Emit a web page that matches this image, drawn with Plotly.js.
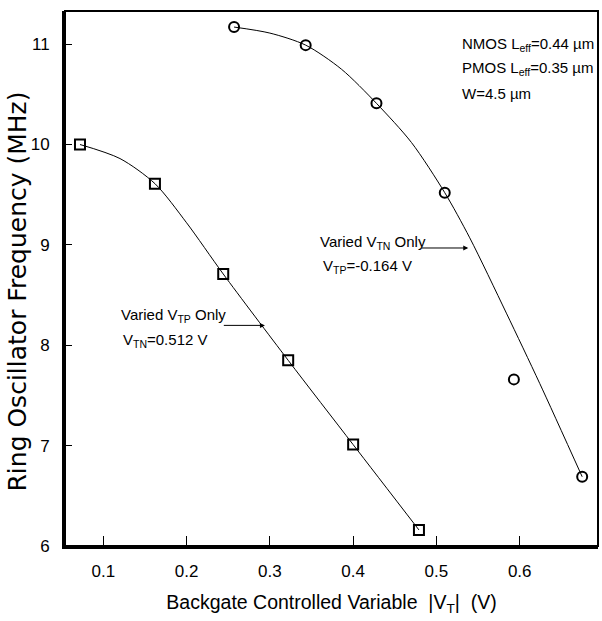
<!DOCTYPE html>
<html>
<head>
<meta charset="utf-8">
<script src="https://cdn.plot.ly/plotly-3.0.1.min.js"></script>
<style>
html,body{margin:0;padding:0;background:#fff;}
#chart{width:602px;height:621px;}
</style>
</head>
<body>
<div id="chart"></div>
<script>
// Varied V_TP only (squares)
const sqX = [0.072, 0.162, 0.244, 0.322, 0.400, 0.479];
const sqY = [10.00, 9.61, 8.71, 7.85, 7.01, 6.16];
// fitted curve through the squares
const sqFitX = [0.072, 0.120, 0.162, 0.200, 0.244, 0.322, 0.400, 0.479];
const sqFitY = [10.00, 9.86, 9.61, 9.22, 8.71, 7.85, 7.01, 6.16];
// Varied V_TN only (circles)
const ciX = [0.257, 0.343, 0.428, 0.510, 0.593, 0.675];
const ciY = [11.17, 10.99, 10.41, 9.52, 7.66, 6.69];
// fitted curve for the circles
const ciFitX = [0.257, 0.300, 0.343, 0.386, 0.428, 0.470, 0.510, 0.540, 0.584, 0.624, 0.675];
const ciFitY = [11.17, 11.11, 10.99, 10.75, 10.41, 10.02, 9.52, 9.07, 8.32, 7.62, 6.69];

const xTicks = [0.1, 0.2, 0.3, 0.4, 0.5, 0.6];
const xTickText = ['0.1', '0.2', '0.3', '0.4', '0.5', '0.6'];
const yTicks = [6, 7, 8, 9, 10, 11];
const yTickText = ['6', '7', '8', '9', '10', '11'];

const SANS = 'Liberation Sans, Arial, sans-serif';

const traces = [
  {x: sqFitX, y: sqFitY, mode: 'lines', line: {color: '#000', width: 1, shape: 'spline', smoothing: 0.8}, hoverinfo: 'skip'},
  {x: ciFitX, y: ciFitY, mode: 'lines', line: {color: '#000', width: 1, shape: 'spline', smoothing: 0.8}, hoverinfo: 'skip'},
  {x: sqX, y: sqY, mode: 'markers', marker: {symbol: 'square-open', size: 10, color: '#000', line: {color: '#000', width: 2}}},
  {x: ciX, y: ciY, mode: 'markers', marker: {symbol: 'circle-open', size: 10, color: '#000', line: {color: '#000', width: 2}}}
];

function txt(x, y, text) {
  return {x: x, y: y, xref: 'x', yref: 'y', text: text, showarrow: false,
    xanchor: 'left', yanchor: 'middle', align: 'left',
    font: {family: SANS, size: 15, color: '#000'}};
}
function arrow(x, y, ax, ay) {
  return {x: x, y: y, ax: ax, ay: ay, xref: 'x', yref: 'y', axref: 'x', ayref: 'y',
    text: '', showarrow: true, arrowhead: 2, arrowsize: 1, arrowwidth: 1, arrowcolor: '#000'};
}

const layout = {
  width: 602, height: 621,
  margin: {l: 65, r: 4, t: 11, b: 75, pad: 0},
  paper_bgcolor: '#fff', plot_bgcolor: '#fff',
  showlegend: false,
  xaxis: {
    range: [0.054, 0.694], showgrid: false, zeroline: false,
    showline: true, linecolor: '#000', linewidth: 3,
    ticks: 'inside', ticklen: 10, tickwidth: 1.2, tickcolor: '#000',
    tickvals: xTicks, ticktext: xTickText,
    tickfont: {family: SANS, size: 17, color: '#000'},
    ticklabelstandoff: 8,
    title: {text: 'Backgate Controlled Variable  |V<sub>T</sub>|  (V)', font: {family: SANS, size: 19.5, color: '#000'}, standoff: 15}
  },
  yaxis: {
    range: [6, 11.33], showgrid: false, zeroline: false,
    showline: true, linecolor: '#000', linewidth: 3,
    ticks: 'inside', ticklen: 7, tickwidth: 1.2, tickcolor: '#000',
    tickvals: yTicks, ticktext: yTickText,
    tickfont: {family: SANS, size: 17, color: '#000'},
    ticklabelstandoff: 9
  },
  shapes: [
    {type: 'rect', xref: 'paper', yref: 'paper', x0: 0, x1: 1, y0: 0, y1: 1, line: {color: '#000', width: 2}}
  ],
  annotations: [
    {x: -0.09, y: 0.4757, xref: 'paper', yref: 'paper', text: 'Ring Oscillator Frequency (MHz)',
     textangle: -90, showarrow: false, xanchor: 'center', yanchor: 'middle',
     font: {family: 'DejaVu Sans, sans-serif', size: 25, color: '#000'}},
    txt(0.1188, 8.298, 'Varied V<sub>TP</sub> Only'),
    txt(0.1209, 8.049, 'V<sub>TN</sub>=0.512 V'),
    arrow(0.2941, 8.198, 0.2429, 8.198),
    txt(0.3581, 9.019, 'Varied V<sub>TN</sub> Only'),
    txt(0.3610, 8.787, 'V<sub>TP</sub>=-0.164 V'),
    arrow(0.5382, 8.969, 0.4802, 8.969),
    txt(0.528, 10.997, 'NMOS L<sub>eff</sub>=0.44 µm'),
    txt(0.528, 10.753, 'PMOS L<sub>eff</sub>=0.35 µm'),
    txt(0.528, 10.504, 'W=4.5 µm')
  ]
};

Plotly.newPlot('chart', traces, layout, {displayModeBar: false, staticPlot: true});
</script>
</body>
</html>
